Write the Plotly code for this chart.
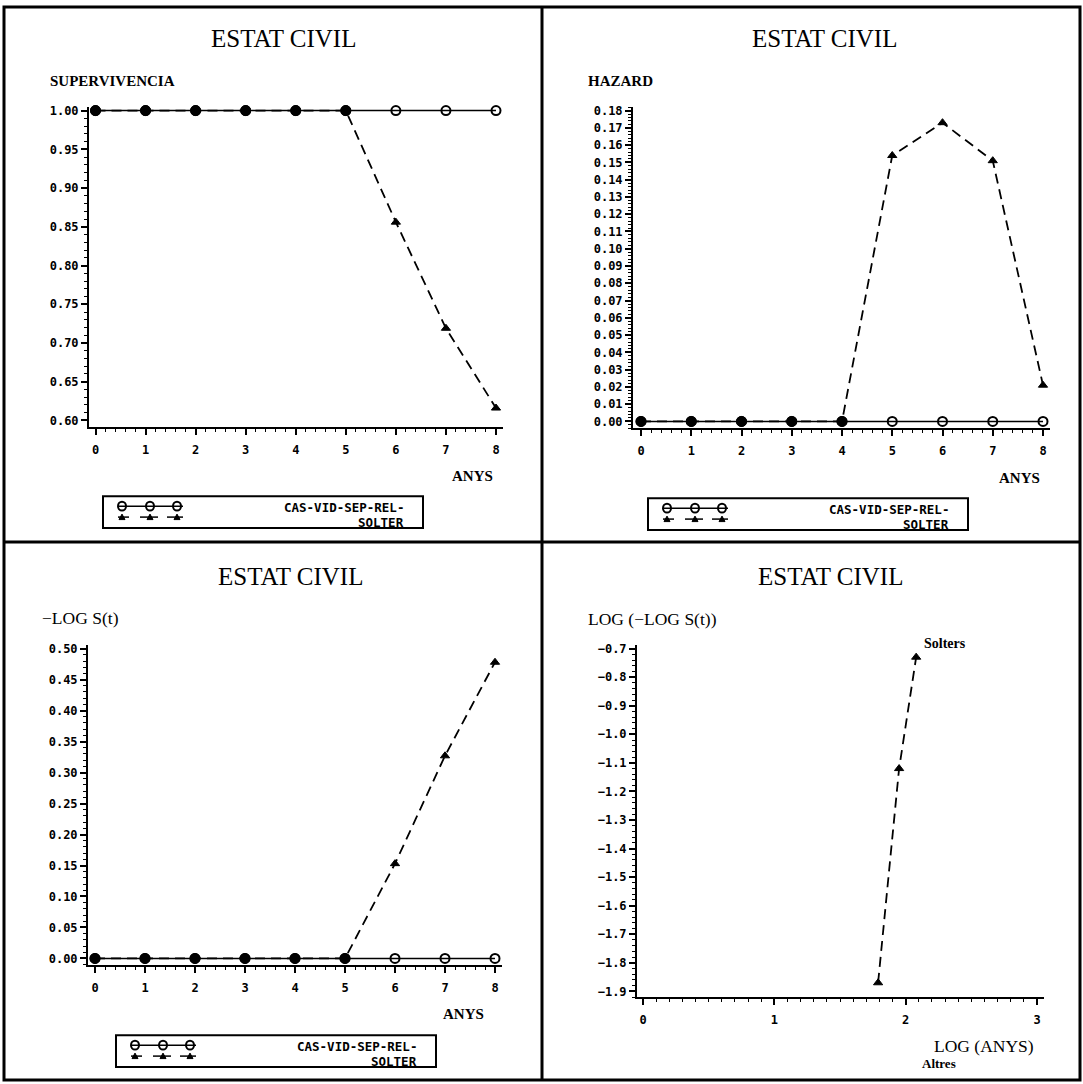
import plotly.graph_objects as go

W, H = 1083, 1084

# ---------------- data ----------------
anys = [0, 1, 2, 3, 4, 5, 6, 7, 8]
surv_cas = [1.0, 1.0, 1.0, 1.0, 1.0, 1.0, 1.0, 1.0, 1.0]
surv_solter = [1.0, 1.0, 1.0, 1.0, 1.0, 1.0, 0.856, 0.719, 0.616]
haz_cas = [0.0, 0.0, 0.0, 0.0, 0.0, 0.0, 0.0, 0.0, 0.0]
haz_solter = [0.0, 0.0, 0.0, 0.0, 0.0, 0.154, 0.173, 0.151, 0.021]
mlogs_cas = [0.0, 0.0, 0.0, 0.0, 0.0, 0.0, 0.0, 0.0, 0.0]
mlogs_solter = [0.0, 0.0, 0.0, 0.0, 0.0, 0.0, 0.153, 0.327, 0.478]
log_anys_solter = [1.79, 1.95, 2.08]
loglog_solter = [-1.87, -1.12, -0.73]

surv_ticks = [0.60, 0.65, 0.70, 0.75, 0.80, 0.85, 0.90, 0.95, 1.00]
haz_ticks = [0.00, 0.01, 0.02, 0.03, 0.04, 0.05, 0.06, 0.07, 0.08, 0.09,
             0.10, 0.11, 0.12, 0.13, 0.14, 0.15, 0.16, 0.17, 0.18]
mlogs_ticks = [0.00, 0.05, 0.10, 0.15, 0.20, 0.25, 0.30, 0.35, 0.40, 0.45, 0.50]
loglog_ticks = [-1.9, -1.8, -1.7, -1.6, -1.5, -1.4, -1.3, -1.2, -1.1, -1.0,
                -0.9, -0.8, -0.7]
loganys_ticks = [0, 1, 2, 3]

legend_top = "CAS-VID-SEP-REL-"
legend_bottom = "SOLTER"

# ---------------- helpers ----------------
def px(x):
    return x / W

def py(y):
    return 1 - y / H

def rng(p_lo, p_hi, va, pa, vb, pb):
    s = (pb - pa) / (vb - va)
    return [va + (p_lo - pa) / s, va + (p_hi - pa) / s]

TICK_FONT = dict(family="DejaVu Sans Mono", size=12, color="black", weight="bold")
TITLE_FONT = dict(family="Liberation Serif", size=25, color="black")
YT_FONT = dict(family="Liberation Serif", size=15, color="black", weight="bold")
LEG_FONT = dict(family="DejaVu Sans Mono", size=12.5, color="black", weight="bold")
SERIF17 = dict(family="Liberation Serif", size=17.5, color="black")

# panel geometry (pixels)
panels = [
    dict(xl=89, xr=503, xa=(0, 95.5), xb=(8, 496), yt=104, yb=426, ya=(1.0, 108), yb_=(0.6, 419)),
    dict(xl=633, xr=1050, xa=(0, 641), xb=(8, 1043), yt=104, yb=427, ya=(0.18, 108), yb_=(0.0, 420)),
    dict(xl=88, xr=502, xa=(0, 95), xb=(8, 495), yt=644, yb=966, ya=(0.5, 648), yb_=(0.0, 959)),
    dict(xl=637, xr=1044, xa=(0, 643), xb=(3, 1037), yt=644, yb=998, ya=(-0.7, 648), yb_=(-1.9, 992)),
]

fig = go.Figure()

CAS_LINE = dict(color="black", width=1.5)
SOL_LINE = dict(color="black", width=1.8, dash="10px,6px")
CAS_MK = dict(symbol="circle-open", size=9, color="black", opacity=1,
              line=dict(width=2, color="black"))


def solter_marker(cas_vals, sol_vals):
    # where both groups coincide the two symbols merge into a solid dot
    same = [abs(c - s) < 1e-9 for c, s in zip(cas_vals, sol_vals)]
    return dict(symbol=["circle" if k else "triangle-up" for k in same],
                size=[10 if k else 8 for k in same], color="black", opacity=1,
                line=dict(width=1, color="black"))


series = [
    (anys, surv_cas, anys, surv_solter),
    (anys, haz_cas, anys, haz_solter),
    (anys, mlogs_cas, anys, mlogs_solter),
]
for i, (xc, yc, xs, ys) in enumerate(series):
    n = i + 1
    xa = "x" if n == 1 else f"x{n}"
    ya = "y" if n == 1 else f"y{n}"
    fig.add_trace(go.Scatter(x=xc, y=yc, mode="lines+markers", line=CAS_LINE,
                             marker=CAS_MK, xaxis=xa, yaxis=ya, showlegend=False,
                             cliponaxis=False))
    fig.add_trace(go.Scatter(x=xs, y=ys, mode="lines+markers", line=SOL_LINE,
                             marker=solter_marker(yc, ys), xaxis=xa, yaxis=ya,
                             showlegend=False, cliponaxis=False))

fig.add_trace(go.Scatter(x=log_anys_solter, y=loglog_solter, mode="lines+markers",
                         line=SOL_LINE,
                         marker=dict(symbol="triangle-up", size=8, color="black",
                                     line=dict(width=1, color="black")),
                         xaxis="x4", yaxis="y4", showlegend=False, cliponaxis=False))

yticks = [
    (surv_ticks, ".2f", 0.01),
    (haz_ticks, ".2f", 0.002),
    (mlogs_ticks, ".2f", 0.01),
    (loglog_ticks, ".1f", 0.02),
]
xticks = [
    (anys, 0.2),
    (anys, 0.2),
    (anys, 0.2),
    (loganys_ticks, 0.1),
]

layout = {}
for i, p in enumerate(panels):
    n = i + 1
    kx = "xaxis" if n == 1 else f"xaxis{n}"
    ky = "yaxis" if n == 1 else f"yaxis{n}"
    xr = rng(p["xl"], p["xr"], p["xa"][0], p["xa"][1], p["xb"][0], p["xb"][1])
    yr = rng(p["yb"], p["yt"], p["ya"][0], p["ya"][1], p["yb_"][0], p["yb_"][1])
    layout[kx] = dict(
        domain=[px(p["xl"]), px(p["xr"])], range=xr, anchor="y" if n == 1 else f"y{n}",
        showline=True, linecolor="black", linewidth=2, showgrid=False, zeroline=False,
        ticks="outside", ticklen=6, tickwidth=1.5, tickcolor="black",
        tickvals=xticks[i][0], tickformat="d", tickfont=TICK_FONT, ticklabelstandoff=4,
        minor=dict(ticks="outside", dtick=xticks[i][1], ticklen=3, tickwidth=1, tickcolor="black"),
    )
    layout[ky] = dict(
        domain=[py(p["yb"]), py(p["yt"])], range=yr, anchor="x" if n == 1 else f"x{n}",
        showline=True, linecolor="black", linewidth=2, showgrid=False, zeroline=False,
        ticks="outside", ticklen=6, tickwidth=1.5, tickcolor="black",
        tickvals=yticks[i][0], tickformat=yticks[i][1], tickfont=TICK_FONT,
        minor=dict(ticks="outside", dtick=yticks[i][2], ticklen=3, tickwidth=1, tickcolor="black"),
    )

annotations = []
def ann(text, x, y, font, xanchor="left", yanchor="middle"):
    annotations.append(dict(text=text, x=px(x), y=py(y), xref="paper", yref="paper",
                            showarrow=False, font=font, xanchor=xanchor, yanchor=yanchor))

# titles
ann("ESTAT CIVIL", 283, 36, TITLE_FONT, xanchor="center")
ann("ESTAT CIVIL", 824, 36, TITLE_FONT, xanchor="center")
ann("ESTAT CIVIL", 290, 576, TITLE_FONT, xanchor="center")
ann("ESTAT CIVIL", 830, 576, TITLE_FONT, xanchor="center")

# y axis titles
ann("SUPERVIVENCIA", 48, 78, YT_FONT)
ann("HAZARD", 586, 78, YT_FONT)
ann("−LOG S(t)", 40, 617, SERIF17)
ann("LOG (−LOG S(t))", 586, 618, SERIF17)

# x axis titles
ann("ANYS", 495, 475, YT_FONT, xanchor="right")
ann("ANYS", 1042, 477, YT_FONT, xanchor="right")
ann("ANYS", 486, 1015, YT_FONT, xanchor="right")
ann("LOG (ANYS)", 1036, 1047, SERIF17, xanchor="right")
ann("Altres", 920, 1064, dict(family="Liberation Serif", size=13, color="black", weight="bold"))
ann("Solters", 922, 643, dict(family="Liberation Serif", size=14, color="black", weight="bold"))

shapes = []
# outer frame and dividers
shapes.append(dict(type="rect", xref="paper", yref="paper", x0=px(4), x1=px(1080), y0=py(1081), y1=py(4),
                   line=dict(color="black", width=3)))
shapes.append(dict(type="line", xref="paper", yref="paper", x0=px(542), x1=px(542), y0=py(1081), y1=py(4),
                   line=dict(color="black", width=3)))
shapes.append(dict(type="line", xref="paper", yref="paper", x0=px(4), x1=px(1080), y0=py(541), y1=py(541),
                   line=dict(color="black", width=3)))

# legends (box, sample glyphs, text)
for (bx, by) in [(103, 495), (648, 497), (116, 1036)]:
    bw, bh = 320, 32
    shapes.append(dict(type="rect", xref="paper", yref="paper", x0=px(bx), x1=px(bx + bw),
                       y0=py(by + bh), y1=py(by), line=dict(color="black", width=2)))
    r1 = by + 10
    r2 = by + 21
    gx = [bx + 19, bx + 47, bx + 74]
    shapes.append(dict(type="line", xref="paper", yref="paper", x0=px(bx + 15), x1=px(bx + 80),
                       y0=py(r1), y1=py(r1), line=dict(color="black", width=1.5)))
    for g in gx:
        shapes.append(dict(type="circle", xref="paper", yref="paper", x0=px(g - 4), x1=px(g + 4),
                           y0=py(r1 + 4.5), y1=py(r1 - 4.5), line=dict(color="black", width=2)))
    for a, b in [(bx + 15, bx + 26), (bx + 37, bx + 55), (bx + 64, bx + 80)]:
        shapes.append(dict(type="line", xref="paper", yref="paper", x0=px(a), x1=px(b),
                           y0=py(r2), y1=py(r2), line=dict(color="black", width=1.5)))
    for g in gx:
        shapes.append(dict(type="path", xref="paper", yref="paper",
                           path=f"M {px(g - 3)},{py(r2 + 2.5)} L {px(g + 3)},{py(r2 + 2.5)} L {px(g)},{py(r2 - 3)} Z",
                           fillcolor="black", line=dict(color="black", width=1)))
    ann(legend_top, bx + 303, r1 + 1, LEG_FONT, xanchor="right")
    ann(legend_bottom, bx + 303, r2 + 5, LEG_FONT, xanchor="right")

fig.update_layout(
    width=W, height=H, margin=dict(l=0, r=0, t=0, b=0),
    paper_bgcolor="white", plot_bgcolor="white",
    annotations=annotations, shapes=shapes, showlegend=False,
    **layout,
)

fig.write_html("out.html", config={"displayModeBar": False},
               post_script="document.body.style.margin='0';document.body.style.overflow='hidden';")
